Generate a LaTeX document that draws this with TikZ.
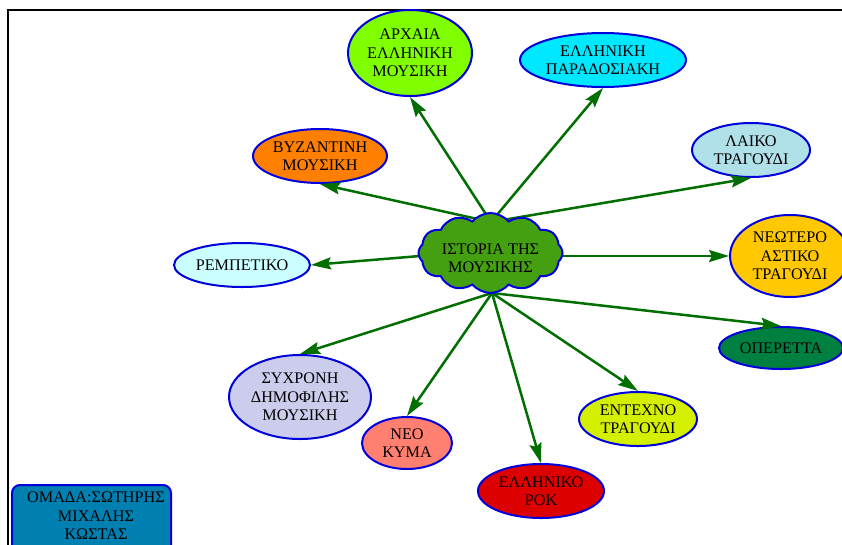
\documentclass[tikz,border=0pt]{standalone}
\usepackage{fontspec}
\setmainfont{Liberation Serif}
\usetikzlibrary{shapes.geometric,shapes.symbols,arrows.meta}
\definecolor{arr}{RGB}{0,110,0}
\definecolor{bord}{RGB}{0,0,220}
\definecolor{cA}{RGB}{128,255,0}
\definecolor{cP}{RGB}{0,232,255}
\definecolor{cL}{RGB}{176,224,232}
\definecolor{cN}{RGB}{255,200,0}
\definecolor{cO}{RGB}{0,128,64}
\definecolor{cB}{RGB}{255,128,0}
\definecolor{cR}{RGB}{204,255,255}
\definecolor{cS}{RGB}{204,204,236}
\definecolor{cK}{RGB}{255,128,112}
\definecolor{cE}{RGB}{221,0,0}
\definecolor{cT}{RGB}{212,240,0}
\definecolor{cC}{RGB}{68,160,16}
\definecolor{cBox}{RGB}{0,128,176}
\begin{document}
\begin{tikzpicture}[x=1pt,y=-1pt,
  txt/.style={font=\fontsize{16.2}{18.5}\selectfont},
  topic/.style={ellipse,draw=bord,line width=2pt,inner sep=0pt,align=center,txt},
  link/.style={draw=arr,line width=2.5pt,-{Stealth[length=20pt,width=12pt,inset=3pt]}}]
\useasboundingbox (0,0) rectangle (842,544);
\fill[white] (0,0) rectangle (842,544);
\draw[line width=2pt] (8,560) -- (8,10) -- (860,10);
% nodes
\node[topic,fill=cA,minimum width=124pt,minimum height=86pt] (A) at (410,53) {ΑΡΧΑΙΑ\\ΕΛΛΗΝΙΚΗ\\ΜΟΥΣΙΚΗ};
\node[topic,fill=cP,minimum width=166pt,minimum height=54pt] (P) at (603,60) {ΕΛΛΗΝΙΚΗ\\ΠΑΡΑΔΟΣΙΑΚΗ};
\node[topic,fill=cL,minimum width=118pt,minimum height=54pt] (L) at (751,150) {ΛΑΙΚΟ\\ΤΡΑΓΟΥΔΙ};
\node[topic,fill=cN,minimum width=120pt,minimum height=82pt] (N) at (790,256) {ΝΕΩΤΕΡΟ\\ΑΣΤΙΚΟ\\ΤΡΑΓΟΥΔΙ};
\node[topic,fill=cO,minimum width=124pt,minimum height=42pt] (O) at (781,348) {ΟΠΕΡΕΤΤΑ};
\node[topic,fill=cB,minimum width=134pt,minimum height=54pt] (B) at (320,156) {ΒΥΖΑΝΤΙΝΗ\\ΜΟΥΣΙΚΗ};
\node[topic,fill=cR,minimum width=136pt,minimum height=44pt] (R) at (242,265) {ΡΕΜΠΕΤΙΚΟ};
\node[topic,fill=cS,minimum width=142pt,minimum height=84pt] (S) at (300,397) {ΣΥΧΡΟΝΗ\\ΔΗΜΟΦΙΛΗΣ\\ΜΟΥΣΙΚΗ};
\node[topic,fill=cK,minimum width=90pt,minimum height=52pt] (K) at (407,443) {ΝΕΟ\\ΚΥΜΑ};
\node[topic,fill=cE,minimum width=126pt,minimum height=54pt] (E) at (541,491) {ΕΛΛΗΝΙΚΟ\\ΡΟΚ};
\node[topic,fill=cT,minimum width=118pt,minimum height=54pt] (T) at (638,419) {ΕΝΤΕΧΝΟ\\ΤΡΑΓΟΥΔΙ};
% connector origins on the cloud
\coordinate (ct) at (491,222);
\coordinate (cb) at (492,293);
\coordinate (cl) at (420,256);
\coordinate (cr) at (562,256);
\draw[link] (ct) -- (A.south);
\draw[link] (ct) -- (P.south);
\draw[link] (ct) -- (L.south);
\draw[link] (ct) -- (B.south);
\draw[link] (cl) -- (R.east);
\draw[link] (cr) -- (N.west);
\draw[link] (cb) -- (O.north);
\draw[link] (cb) -- (S.north);
\draw[link] (cb) -- (K.north);
\draw[link] (cb) -- (E.north);
\draw[link] (cb) -- (T.north);
% central cloud
\node[cloud,cloud puffs=12,cloud puff arc=100,cloud ignores aspect,draw=bord,line width=2pt,fill=cC,
  minimum width=144pt,minimum height=80pt,inner sep=0pt] (C) at (490.5,253) {};
\node[align=center,inner sep=0pt,txt] (Ct) at (490.5,258) {ΙΣΤΟΡΙΑ ΤΗΣ\\ΜΟΥΣΙΚΗΣ};
% team box
\node[draw=bord,line width=2pt,fill=cBox,rounded corners=8pt,minimum width=159pt,minimum height=80pt,anchor=north west] (G) at (11,484) {};
\node[align=center,inner sep=0pt,txt,anchor=north] (Gt) at (96,492) {ΟΜΑΔΑ:ΣΩΤΗΡΗΣ\\ΜΙΧΑΛΗΣ\\ΚΩΣΤΑΣ};
\end{tikzpicture}
\end{document}
